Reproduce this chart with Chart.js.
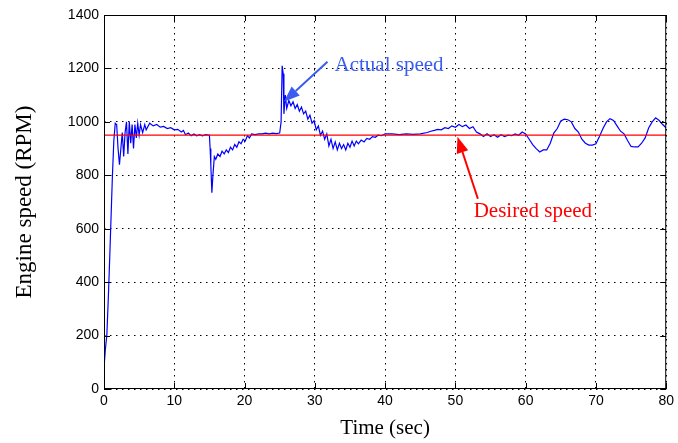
<!DOCTYPE html>
<html>
<head>
<meta charset="utf-8">
<script src="https://cdn.jsdelivr.net/npm/chart.js@4.4.1/dist/chart.umd.min.js"></script>
<style>
  html, body { margin: 0; padding: 0; background: #fff; }
  #wrap { width: 678px; height: 443px; }
</style>
</head>
<body>
<div id="wrap"><canvas id="speedChart" width="678" height="443"></canvas></div>
<script>
// time in seconds, engine speed
const timeSec = [
  0, 0.2, 0.4, 0.6, 0.8, 1.0, 1.2, 1.4, 1.6, 1.8, 2.0, 2.2, 2.4, 2.6, 2.8, 3.0, 3.2, 3.4, 3.6, 3.8,
  4.0, 4.2, 4.4, 4.6, 4.8, 5.0, 5.2, 5.5, 5.8, 6.0, 6.5, 7.0, 7.5, 8.0, 8.5, 9.0, 9.5, 10.0, 10.5, 11.0,
  11.3, 11.6, 12.0, 12.4, 12.8, 13.2, 13.6, 14.0, 14.5, 15.0, 15.1, 15.2, 15.35, 15.5, 15.7, 15.9, 16.2, 16.5, 16.8, 17.1,
  17.4, 17.7, 18.0, 18.3, 18.6, 18.9, 19.2, 19.5, 19.8, 20.1, 20.4, 20.7, 21.0, 21.5, 22, 22.5, 23, 23.5, 24, 24.5,
  25.0, 25.2, 25.35, 25.5, 25.6, 25.8, 26.0, 26.3, 26.6, 26.9, 27.2, 27.5, 27.8, 28.1, 28.4, 28.7, 29.0, 29.3, 29.6, 29.9,
  30.2, 30.5, 30.8, 31.1, 31.4, 31.7, 32.0, 32.3, 32.6, 32.9, 33.2, 33.5, 33.8, 34.1, 34.4, 34.7, 35, 35.3, 35.6, 35.9,
  36.2, 36.6, 37, 37.4, 37.8, 38.2, 38.6, 39, 39.5, 40, 41, 42, 43, 44, 45, 46, 46.5, 47, 47.5, 48,
  48.5, 49, 49.5, 50, 50.5, 51, 51.5, 52, 52.5, 53, 53.5, 54, 54.5, 55, 55.5, 56, 56.5, 57, 57.5, 58,
  58.5, 59, 59.5, 60, 60.5, 61, 61.5, 62, 62.5, 63, 63.5, 64, 64.5, 65, 65.5, 66, 66.5, 67, 67.5, 68,
  68.5, 69, 69.5, 70, 70.5, 71, 71.5, 72, 72.5, 73, 73.5, 74, 74.5, 75, 75.5, 76, 76.5, 77, 77.5, 78,
  78.5, 79, 79.5, 80
];
const actualRpm = [
  80, 150, 200, 330, 480, 640, 800, 930, 995, 990, 900, 840, 900, 960, 870, 960, 1000, 880, 1000, 920,
  990, 900, 990, 940, 995, 950, 990, 960, 990, 970, 995, 985, 990, 980, 983, 975, 978, 970, 972, 962,
  968, 952, 958, 948, 955, 948, 952, 948, 952, 950, 900, 840, 735, 800, 870, 860, 880, 870, 890, 880,
  895, 885, 905, 895, 915, 905, 925, 918, 935, 928, 948, 940, 955, 952, 955, 955, 958, 955, 958, 956,
  958, 1000, 1210, 1180, 1030, 1100, 1050, 1080, 1060, 1075, 1050, 1065, 1040, 1055, 1030, 1040, 1010, 1025, 995, 1005,
  970, 985, 950, 965, 935, 955, 910, 935, 900, 925, 895, 920, 900, 915, 895, 920, 905, 928, 910, 928,
  918, 932, 925, 938, 935, 945, 942, 950, 948, 955, 955, 952, 955, 953, 955, 960, 965, 968, 972, 970,
  978, 975, 985, 980, 990, 982, 988, 975, 982, 962, 955, 945, 955, 945, 952, 942, 952, 945, 950, 948,
  955, 950, 962, 955, 935, 915, 900, 887, 895, 895, 920, 958, 975, 1003, 1010, 1008, 1000, 975, 962, 935,
  920, 913, 913, 918, 945, 975, 1000, 1012, 1005, 985, 965, 955, 930, 908, 906, 906, 920, 940, 977, 1000,
  1015, 1005, 990, 977
];
const desiredRpm = 950;
const xTicks = [0, 10, 20, 30, 40, 50, 60, 70, 80];
const yTicks = [0, 200, 400, 600, 800, 1000, 1200, 1400];

// annotation anchors in data units
const notes = [
  { text: 'Actual speed', color: '#3a5cf0', tx: 32.8, ty: 1210, from: [31.8, 1225], to: [25.6, 1075] },
  { text: 'Desired speed', color: '#ff0000', tx: 52.6, ty: 665, from: [53.2, 712], to: [50.3, 944] }
];

const serif = '"Liberation Serif", "Times New Roman", serif';
const sans = '"Liberation Sans", Arial, sans-serif';

const frame = {
  id: 'frame',
  afterDraw(chart) {
    const { ctx, chartArea: a, scales } = chart;
    ctx.save();
    ctx.strokeStyle = '#000';
    ctx.lineWidth = 1;
    ctx.strokeRect(a.left + 0.5, a.top + 0.5, a.right - a.left - 1, a.bottom - a.top - 1);
    ctx.beginPath();
    xTicks.forEach(v => {
      const px = Math.round(scales.x.getPixelForValue(v)) + 0.5;
      ctx.moveTo(px, a.bottom); ctx.lineTo(px, a.bottom - 6);
      ctx.moveTo(px, a.top); ctx.lineTo(px, a.top + 6);
    });
    yTicks.forEach(v => {
      const py = Math.round(scales.y.getPixelForValue(v)) + 0.5;
      ctx.moveTo(a.left, py); ctx.lineTo(a.left + 6, py);
      ctx.moveTo(a.right, py); ctx.lineTo(a.right - 6, py);
    });
    ctx.stroke();

    notes.forEach(n => {
      const x1 = scales.x.getPixelForValue(n.from[0]), y1 = scales.y.getPixelForValue(n.from[1]);
      const x2 = scales.x.getPixelForValue(n.to[0]), y2 = scales.y.getPixelForValue(n.to[1]);
      const ang = Math.atan2(y2 - y1, x2 - x1);
      const len = 16, half = 6;
      const bx = x2 - len * Math.cos(ang), by = y2 - len * Math.sin(ang);
      ctx.strokeStyle = n.color;
      ctx.fillStyle = n.color;
      ctx.lineWidth = 2;
      ctx.beginPath();
      ctx.moveTo(x1, y1); ctx.lineTo(bx, by);
      ctx.stroke();
      ctx.beginPath();
      ctx.moveTo(x2, y2);
      ctx.lineTo(bx + half * Math.sin(ang), by - half * Math.cos(ang));
      ctx.lineTo(bx - half * Math.sin(ang), by + half * Math.cos(ang));
      ctx.closePath();
      ctx.fill();
      ctx.font = '21px ' + serif;
      ctx.textAlign = 'left';
      ctx.textBaseline = 'middle';
      ctx.fillText(n.text, scales.x.getPixelForValue(n.tx), scales.y.getPixelForValue(n.ty));
    });
    ctx.restore();
  }
};

new Chart(document.getElementById('speedChart'), {
  type: 'line',
  data: {
    datasets: [
      {
        label: 'Actual speed',
        data: timeSec.map((t, i) => ({ x: t, y: actualRpm[i] })),
        borderColor: '#0000ff',
        borderWidth: 1.2,
        pointRadius: 0,
        tension: 0,
        order: 2
      },
      {
        label: 'Desired speed',
        data: [{ x: 0, y: desiredRpm }, { x: 80, y: desiredRpm }],
        borderColor: '#ff0000',
        borderWidth: 1.3,
        pointRadius: 0,
        order: 1
      }
    ]
  },
  options: {
    responsive: false,
    animation: false,
    layout: { padding: { left: 0, right: 11, top: 15, bottom: 0 } },
    plugins: { legend: { display: false }, tooltip: { enabled: false } },
    scales: {
      x: {
        type: 'linear',
        min: 0, max: 80,
        afterFit: s => { s.height = 54; },
        afterBuildTicks: s => { s.ticks = xTicks.map(v => ({ value: v })); },
        ticks: { color: '#000', padding: 4, font: { family: sans, size: 14 }, callback: v => String(v) },
        grid: { color: '#000', lineWidth: 1, drawTicks: false },
        border: { display: false, dash: [1.5, 4.5] },
        title: { display: true, text: 'Time (sec)', color: '#000', padding: { top: 0, bottom: 2 }, font: { family: serif, size: 21 } }
      },
      y: {
        min: 0, max: 1400,
        afterFit: s => { s.width = 104; },
        afterBuildTicks: s => { s.ticks = yTicks.map(v => ({ value: v })); },
        ticks: { color: '#000', padding: 5, font: { family: sans, size: 14 }, callback: v => String(v) },
        grid: { color: '#000', lineWidth: 1, drawTicks: false },
        border: { display: false, dash: [1.5, 4.5] },
        title: { display: true, text: 'Engine speed (RPM)', color: '#000', padding: { top: 11, bottom: 0 }, font: { family: serif, size: 23 } }
      }
    }
  },
  plugins: [frame]
});
</script>
</body>
</html>
